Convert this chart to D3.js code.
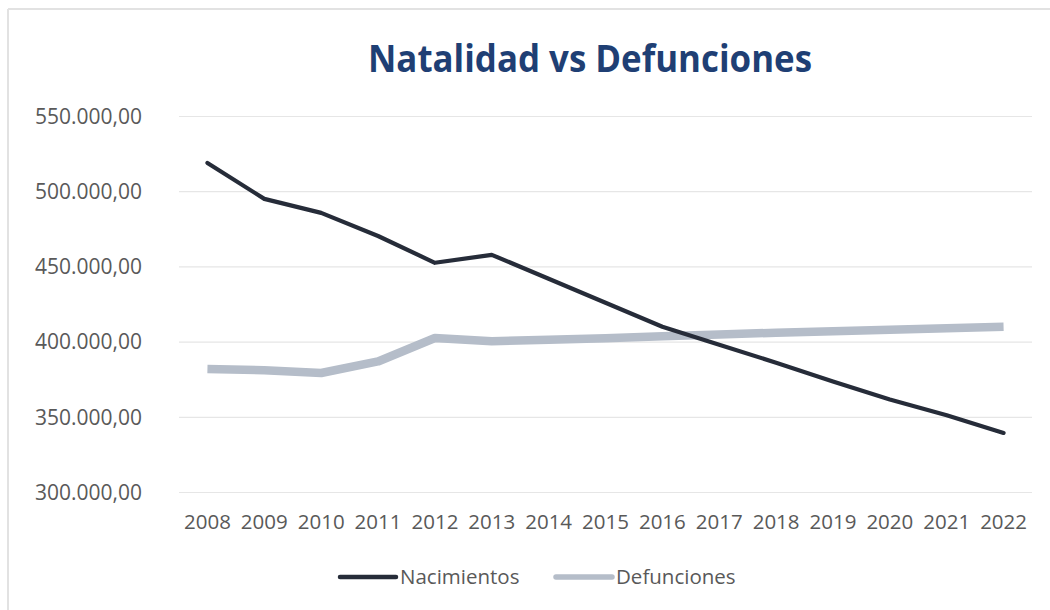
<!DOCTYPE html>
<html>
<head>
<meta charset="utf-8">
<script src="https://cdn.jsdelivr.net/npm/d3@7"></script>
<style>
  html, body { margin: 0; padding: 0; background: #ffffff; }
  svg { display: block; }
</style>
</head>
<body>
<svg id="chart" width="1050" height="610"></svg>
<script>
// Years on the category axis
const years = ["2008","2009","2010","2011","2012","2013","2014","2015",
               "2016","2017","2018","2019","2020","2021","2022"];

// Births per year
const nacimientos = [518800, 494900, 485600, 470200, 452400, 457700, 441800, 425800,
                     409900, 397900, 386000, 373400, 361500, 351000, 339300];

// Deaths per year
const defunciones = [381800, 381000, 379100, 386800, 402400, 400200, 401200, 402200,
                     403500, 404800, 405900, 406900, 407900, 408900, 409800];

// Value axis ticks
const yTicks = [300000, 350000, 400000, 450000, 500000, 550000];

const seriesNames = ["Nacimientos", "Defunciones"];

const svg = d3.select("#chart");
const W = 1050, H = 610;
const plot = { left: 179, right: 1032, top: 116, bottom: 492 };

// Frame edges of the chart panel
svg.append("line").attr("x1", 8).attr("x2", W).attr("y1", 9).attr("y2", 9)
  .attr("stroke", "#e2e2e2").attr("stroke-width", 2);
svg.append("line").attr("x1", 8).attr("x2", 8).attr("y1", 9).attr("y2", H)
  .attr("stroke", "#e2e2e2").attr("stroke-width", 2);

const x = d3.scaleBand().domain(years).range([plot.left, plot.right]);
const y = d3.scaleLinear().domain([300000, 550000]).range([plot.bottom, plot.top]);
const cx = d => x(d) + x.bandwidth() / 2;

const fmt = v => d3.format(",.2f")(v).replace(/,/g, "#").replace(".", ",").replace(/#/g, ".");

// Horizontal gridlines
const yAxis = d3.axisLeft(y).tickValues(yTicks).tickSize(-(plot.right - plot.left))
  .tickFormat(fmt).tickPadding(37);
const gy = svg.append("g").attr("transform", `translate(${plot.left},0)`).call(yAxis);
gy.select(".domain").remove();
gy.selectAll(".tick line").attr("stroke", "#e6e6e6").attr("stroke-width", 1.2);
gy.selectAll(".tick text")
  .attr("fill", "#595959")
  .style("font-family", "'Open Sans', sans-serif")
  .style("font-size", "21px")
  .attr("dy", "0.35em");

// Year labels
const xAxis = d3.axisBottom(x).tickSize(0).tickPadding(22);
const gx = svg.append("g").attr("transform", `translate(0,${plot.bottom})`).call(xAxis);
gx.select(".domain").remove();
gx.selectAll(".tick text")
  .attr("fill", "#595959")
  .style("font-family", "'Open Sans', sans-serif")
  .style("font-size", "20.5px");

// Series lines
const line = d3.line().x((d, i) => cx(years[i])).y(d => y(d));

svg.append("path").datum(defunciones)
  .attr("d", line)
  .attr("fill", "none")
  .attr("stroke", "#b5bdc9")
  .attr("stroke-width", 8.5)
  .attr("stroke-linejoin", "round")
  .attr("stroke-linecap", "butt");

svg.append("path").datum(nacimientos)
  .attr("d", line)
  .attr("fill", "none")
  .attr("stroke", "#262c39")
  .attr("stroke-width", 4.2)
  .attr("stroke-linejoin", "round")
  .attr("stroke-linecap", "round");

// Title
svg.append("text")
  .attr("x", 368).attr("y", 72)
  .attr("textLength", 444).attr("lengthAdjust", "spacingAndGlyphs")
  .attr("fill", "#1f3f74")
  .style("font-family", "'Open Sans', sans-serif")
  .style("font-weight", "700")
  .style("font-size", "37px")
  .text("Natalidad vs Defunciones");

// Legend
const legendItems = [
  { name: seriesNames[0], color: "#262c39", w: 4.5, x0: 340 },
  { name: seriesNames[1], color: "#b5bdc9", w: 5.5, x0: 556 }
];
const lg = svg.append("g");
legendItems.forEach(it => {
  lg.append("line")
    .attr("x1", it.x0).attr("x2", it.x0 + 56)
    .attr("y1", 577).attr("y2", 577)
    .attr("stroke", it.color).attr("stroke-width", it.w)
    .attr("stroke-linecap", "round");
  lg.append("text")
    .attr("x", it.x0 + 60).attr("y", 584)
    .attr("fill", "#595959")
    .style("font-family", "'Open Sans', sans-serif")
    .style("font-size", "20.5px")
    .text(it.name);
});
</script>
</body>
</html>
